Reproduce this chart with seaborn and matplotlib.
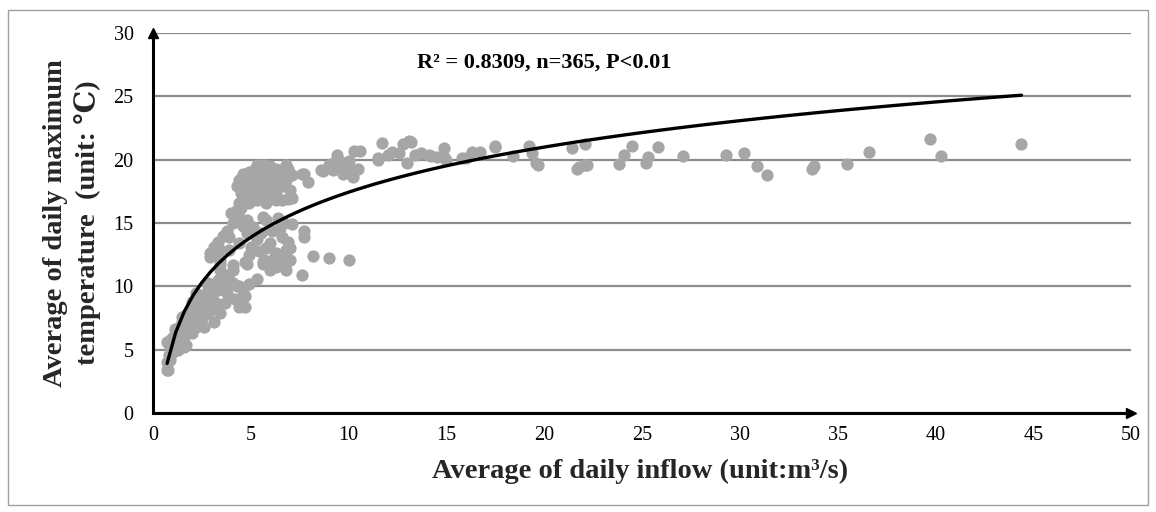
import matplotlib
matplotlib.use("Agg")
import matplotlib.pyplot as plt
from matplotlib.patches import Rectangle
import seaborn as sns
import numpy as np

# ---- data ----
inflow = [
    # low-flow band
    0.72, 0.77, 0.72, 0.87, 0.97, 0.87, 0.72, 0.87, 1.1, 1.3, 1.4, 1.6, 1.7, 1.2, 1.0, 1.5,
    1.1, 1.4, 1.5, 1.8, 2.0, 1.5, 1.7, 2.0, 2.3, 2.6, 2.4, 2.2, 2.6, 2.8, 3.1, 2.9,
    2.4, 2.7, 3.0, 2.8, 2.2, 2.8, 2.5, 2.0, 1.8, 2.2, 2.9, 3.4, 3.2, 3.7, 3.3, 3.8,
    1.2, 1.9, 2.1, 2.5, 2.7, 1.3, 1.6, 0.8, 2.0, 2.3,
    # 8-12 degC group
    3.3, 3.4, 3.8, 4.1, 4.3, 4.6, 4.4, 4.7, 4.6, 4.4, 4.7, 4.4, 3.9, 3.6, 4.1, 4.8,
    5.3, 4.1, 4.7, 5.6, 6.1, 5.6, 6.0, 6.3, 6.8, 7.6, 6.6, 7.0, 4.2, 4.9, 3.6,
    # 12-16 degC group
    2.9, 3.1, 3.4, 2.9, 3.1, 3.4, 3.4, 3.9, 3.3, 3.8, 4.1, 4.3, 4.4, 4.8, 5.1, 5.6,
    5.8, 6.1, 4.8, 3.9, 4.4, 5.0, 5.3, 6.0, 6.3, 6.6, 6.8, 6.6, 7.7, 7.7, 8.2, 9.0,
    10.0, 5.7, 3.6, 3.3, 4.6, 4.0, 5.5, 6.5, 6.9, 7.1, 6.4, 5.8, 4.9, 5.4, 6.2, 7.0,
    6.7, 4.5,
    # 16.5-19.7 degC cluster
    5.3, 4.4, 4.3, 5.0, 4.6, 5.6, 6.1, 6.6, 6.8, 7.0, 6.6, 5.6, 6.0, 5.1, 4.8, 6.3,
    5.3, 5.8, 4.5, 4.9, 5.2, 5.7, 6.0, 6.3, 6.9, 7.1, 6.5, 5.5, 5.0, 4.7, 5.3, 5.9,
    6.2, 6.7, 7.1, 6.3, 5.9, 5.5, 4.9, 4.4, 6.8, 5.4, 6.4, 5.7, 4.9, 5.2, 6.9, 6.1,
    4.6, 6.7,
    # 7.5-10.6
    7.6, 7.9, 7.7, 8.6, 8.7, 9.2, 9.4, 9.6, 9.8, 9.7, 10.2, 10.5, 9.2, 9.5, 10.3, 10.6,
    9.0, 10.0, 10.1,
    # 11-20
    11.5, 11.7, 12.2, 12.6, 12.8, 13.2, 13.0, 13.4, 13.7, 14.1, 14.5, 14.9, 15.0, 15.8,
    16.3, 16.7, 17.5, 18.4, 19.2, 19.4, 19.6, 19.7, 11.5, 12.0, 13.1, 14.2, 14.9, 16.0,
    17.5,
    # > 21
    21.4, 21.7, 22.2, 22.1, 21.8, 22.1, 23.8, 24.1, 24.5, 25.2, 25.3, 25.8, 27.1, 29.3,
    30.2, 30.9, 31.4, 33.7, 33.8, 35.5, 36.6, 39.7, 40.3, 44.4,
]

max_temp = [
    # low-flow band
    3.4, 3.4, 4.0, 4.2, 4.7, 5.2, 5.6, 5.8, 5.0, 5.0, 5.2, 5.2, 5.4, 6.0, 6.0, 6.3,
    6.6, 6.8, 7.2, 6.8, 6.3, 7.6, 7.7, 7.5, 7.2, 6.8, 7.9, 8.4, 8.7, 7.9, 7.2, 8.3,
    9.2, 9.5, 9.2, 10.1, 9.5, 10.3, 8.7, 8.1, 7.3, 6.8, 8.1, 7.9, 8.7, 8.7, 9.7, 9.5,
    5.6, 7.0, 7.8, 7.5, 8.2, 6.4, 6.0, 4.6, 8.8, 9.0,
    # 8-12 degC group
    10.5, 11.3, 10.7, 10.3, 10.0, 9.7, 8.4, 9.2, 9.2, 8.7, 8.4, 10.0, 10.5, 11.0, 11.3, 11.8,
    10.6, 11.7, 11.9, 11.8, 11.7, 11.9, 11.3, 11.5, 11.3, 10.9, 11.8, 12.1, 9.0, 10.2, 9.9,
    # 12-16 degC group
    12.3, 12.9, 11.8, 12.6, 13.1, 12.9, 12.1, 12.9, 12.6, 14.4, 15.0, 16.0, 15.5, 15.2, 14.7, 15.5,
    15.2, 14.4, 14.2, 13.9, 13.4, 13.1, 13.7, 13.4, 12.6, 13.9, 12.9, 12.5, 14.4, 13.9, 12.4, 12.2,
    12.1, 12.1, 14.0, 13.5, 14.8, 15.8, 14.2, 14.6, 13.5, 14.9, 15.4, 13.0, 12.5, 12.8, 12.2, 13.0,
    15.0, 16.2,
    # 16.5-19.7 degC cluster
    19.6, 18.4, 17.9, 17.4, 16.8, 19.2, 18.9, 19.2, 18.4, 17.6, 16.8, 17.6, 18.2, 18.2, 18.6, 17.4,
    16.8, 16.6, 17.4, 19.0, 19.3, 19.6, 19.5, 19.3, 19.3, 18.8, 18.6, 18.6, 18.8, 17.9, 18.0, 17.9,
    17.9, 17.9, 17.0, 16.8, 16.9, 17.0, 16.6, 16.6, 19.6, 19.0, 18.2, 18.3, 17.9, 17.0, 16.9, 17.1,
    18.9, 18.9,
    # 7.5-10.6
    18.9, 18.2, 18.9, 19.2, 19.1, 19.7, 20.4, 19.8, 19.4, 18.9, 18.6, 19.3, 19.2, 19.3, 20.7, 20.7,
    19.6, 19.9, 19.2,
    # 11-20
    20.0, 21.3, 20.6, 20.5, 21.2, 21.4, 19.7, 20.4, 20.5, 20.4, 20.2, 20.9, 20.0, 20.1,
    20.6, 20.6, 21.1, 20.3, 21.1, 20.5, 19.7, 19.6, 20.1, 20.4, 21.5, 20.3, 20.2, 20.1,
    21.0,
    # > 21
    20.9, 19.3, 19.6, 21.2, 19.4, 19.6, 19.65, 20.4, 21.1, 19.7, 20.2, 21.0, 20.3, 20.4,
    20.5, 19.5, 18.8, 19.3, 19.5, 19.65, 20.6, 21.6, 20.3, 21.2,
]

x_ticks = [0, 5, 10, 15, 20, 25, 30, 35, 40, 45, 50]
y_ticks = [0, 5, 10, 15, 20, 25, 30]
annotation = "R² = 0.8309, n=365, P<0.01"
x_label = "Average of daily inflow (unit:m³/s)"
y_label = "Average of daily maximum\ntemperature  (unit: ℃)"

# ---- style ----
sns.set_theme(style="white")
plt.rcParams["font.family"] = ["Liberation Serif", "DejaVu Serif"]

fig = plt.figure(figsize=(11.56, 5.12), dpi=100)
ax = fig.add_axes([153 / 1156, 99 / 512, (1131 - 153) / 1156, (413 - 33) / 512])

sns.regplot(
    x=np.array(inflow), y=np.array(max_temp), ax=ax, logx=True, ci=None,
    scatter_kws=dict(s=78, color="#a6a6a6", alpha=1, linewidths=0, zorder=3),
    line_kws=dict(color="black", lw=2.4, zorder=4),
)

ax.set_xlim(0, 50)
ax.set_ylim(0, 30)
ax.set_xticks(x_ticks)
ax.set_yticks(y_ticks)
ax.yaxis.grid(True, color="#8c8c8c", lw=1.6, zorder=0)
ax.xaxis.grid(False)
ax.set_axisbelow(True)

for s in ["top", "right"]:
    ax.spines[s].set_visible(False)
for s in ["left", "bottom"]:
    ax.spines[s].set_color("black")
    ax.spines[s].set_linewidth(2.2)
    ax.spines[s].set_zorder(5)

ax.tick_params(axis="both", direction="in", length=6, width=2, color="black",
               labelsize=14.5, labelcolor="black")
ax.tick_params(axis="x", pad=9)
ax.tick_params(axis="y", pad=14)

# axis arrows
ax.plot([0], [1], marker="^", color="black", markersize=7, transform=ax.transAxes,
        clip_on=False, zorder=6)
ax.plot([1], [0], marker=">", color="black", markersize=7, transform=ax.transAxes,
        clip_on=False, zorder=6)

ax.set_xlabel(x_label, fontsize=20.5, fontweight="bold", va="center")
ax.xaxis.set_label_coords((640 - 153) / 978, (413 - 471) / 380)
ax.set_ylabel(y_label, fontsize=20.5, fontweight="bold", linespacing=1.3,
              va="center", ha="center")
ax.yaxis.set_label_coords((72 - 153) / 978, (413 - 223) / 380)

ax.text(13.5, 27.7, annotation, fontsize=16, fontweight="bold", ha="left", va="center",
        color="black")

fig.patches.append(Rectangle((8 / 1156, 7 / 512), 1140 / 1156, 495 / 512,
                             transform=fig.transFigure, fill=False,
                             edgecolor="#a0a0a0", lw=1))

fig.savefig("out.png", dpi=100, facecolor="white")
